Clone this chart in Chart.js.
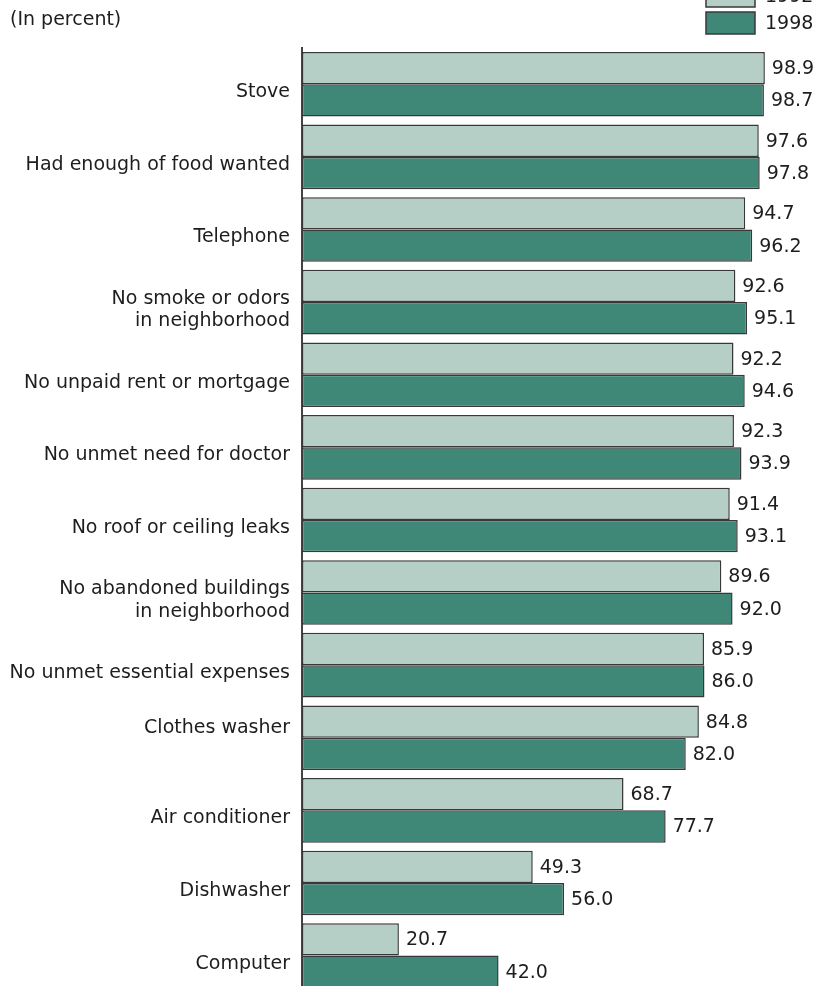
<!DOCTYPE html>
<html>
<head>
<meta charset="utf-8">
<script src="https://cdn.jsdelivr.net/npm/chart.js@4/dist/chart.umd.min.js"></script>
<style>
    html, body { margin: 0; padding: 0; background: #fff; overflow: hidden; }
    #barChart { display: block; }
</style>
</head>
<body>
<canvas id="barChart" width="825" height="1015"></canvas>
<script>
const categories = [
    "Stove",
    "Had enough of food wanted",
    "Telephone",
    ["No smoke or odors", "in neighborhood"],
    "No unpaid rent or mortgage",
    "No unmet need for doctor",
    "No roof or ceiling leaks",
    ["No abandoned buildings", "in neighborhood"],
    "No unmet essential expenses",
    ["Clothes washer", ""],
    "Air conditioner",
    "Dishwasher",
    "Computer",
];
const seriesNames = ["1992", "1998"];
const values1992 = [98.9, 97.6, 94.7, 92.6, 92.2, 92.3, 91.4, 89.6, 85.9, 84.8, 68.7, 49.3, 20.7];
const values1998 = [98.7, 97.8, 96.2, 95.1, 94.6, 93.9, 93.1, 92.0, 86.0, 82.0, 77.7, 56.0, 42.0];
const unitNote = "(In percent)";

const FONT = "DejaVu Sans";
const TEXT = "#1d1d1d";
const EDGE = "#383838";
const colors = ["#b5cfc7", "#3f8878"];

// value labels at the end of each bar
const valueLabels = {
    id: "valueLabels",
    afterDatasetsDraw(chart) {
        const ctx = chart.ctx;
        ctx.save();
        ctx.font = `19px "${FONT}"`;
        ctx.fillStyle = TEXT;
        ctx.textAlign = "left";
        ctx.textBaseline = "middle";
        chart.data.datasets.forEach((ds, i) => {
            chart.getDatasetMeta(i).data.forEach((bar, j) => {
                ctx.fillText(ds.data[j].toFixed(1), bar.x + 7, bar.y + 1);
            });
        });
        ctx.restore();
    },
};

// note at top left and stacked legend at top right (first item runs off the top)
const headerBits = {
    id: "headerBits",
    afterDraw(chart) {
        const ctx = chart.ctx;
        ctx.save();
        ctx.font = `19px "${FONT}"`;
        ctx.fillStyle = TEXT;
        ctx.textBaseline = "middle";
        ctx.fillText(unitNote, 10, 20);

        const boxX = 706, boxW = 49, boxH = 22, step = 27;
        const n = chart.data.datasets.length;
        chart.data.datasets.forEach((ds, i) => {
            const top = 12 - (n - 1 - i) * step;
            ctx.fillStyle = ds.backgroundColor;
            ctx.fillRect(boxX, top, boxW, boxH);
            ctx.strokeStyle = EDGE;
            ctx.lineWidth = 1.5;
            ctx.strokeRect(boxX, top, boxW, boxH);
            ctx.fillStyle = TEXT;
            ctx.fillText(ds.label, boxX + boxW + 10, top + boxH / 2 + 1);
        });
        ctx.restore();
    },
};

new Chart(document.getElementById("barChart"), {
    type: "bar",
    data: {
        labels: categories,
        datasets: [values1992, values1998].map((vals, i) => ({
            label: seriesNames[i],
            data: vals,
            backgroundColor: colors[i],
            borderColor: EDGE,
            borderWidth: 1.5,
            borderSkipped: false,
            barPercentage: 1,
            categoryPercentage: 0.89,
        })),
    },
    options: {
        indexAxis: "y",
        responsive: false,
        animation: false,
        layout: { padding: { top: 48, right: 55, left: 0, bottom: 0 } },
        scales: {
            x: { display: false, min: 0, max: 100 },
            y: {
                grid: { display: false, drawTicks: false },
                border: { display: true, color: "#444", width: 2 },
                afterFit(scale) { scale.width = 302; },
                ticks: {
                    autoSkip: false,
                    color: TEXT,
                    padding: 12,
                    labelOffset: 8,
                    font: (c) => ({
                        family: FONT,
                        size: 19,
                        lineHeight: c.tick && Array.isArray(c.tick.label) && c.tick.label[1] === "" ? 1.9 : 1.17,
                    }),
                },
            },
        },
        plugins: {
            legend: { display: false },
            tooltip: { enabled: false },
        },
    },
    plugins: [valueLabels, headerBits],
});
</script>
</body>
</html>
